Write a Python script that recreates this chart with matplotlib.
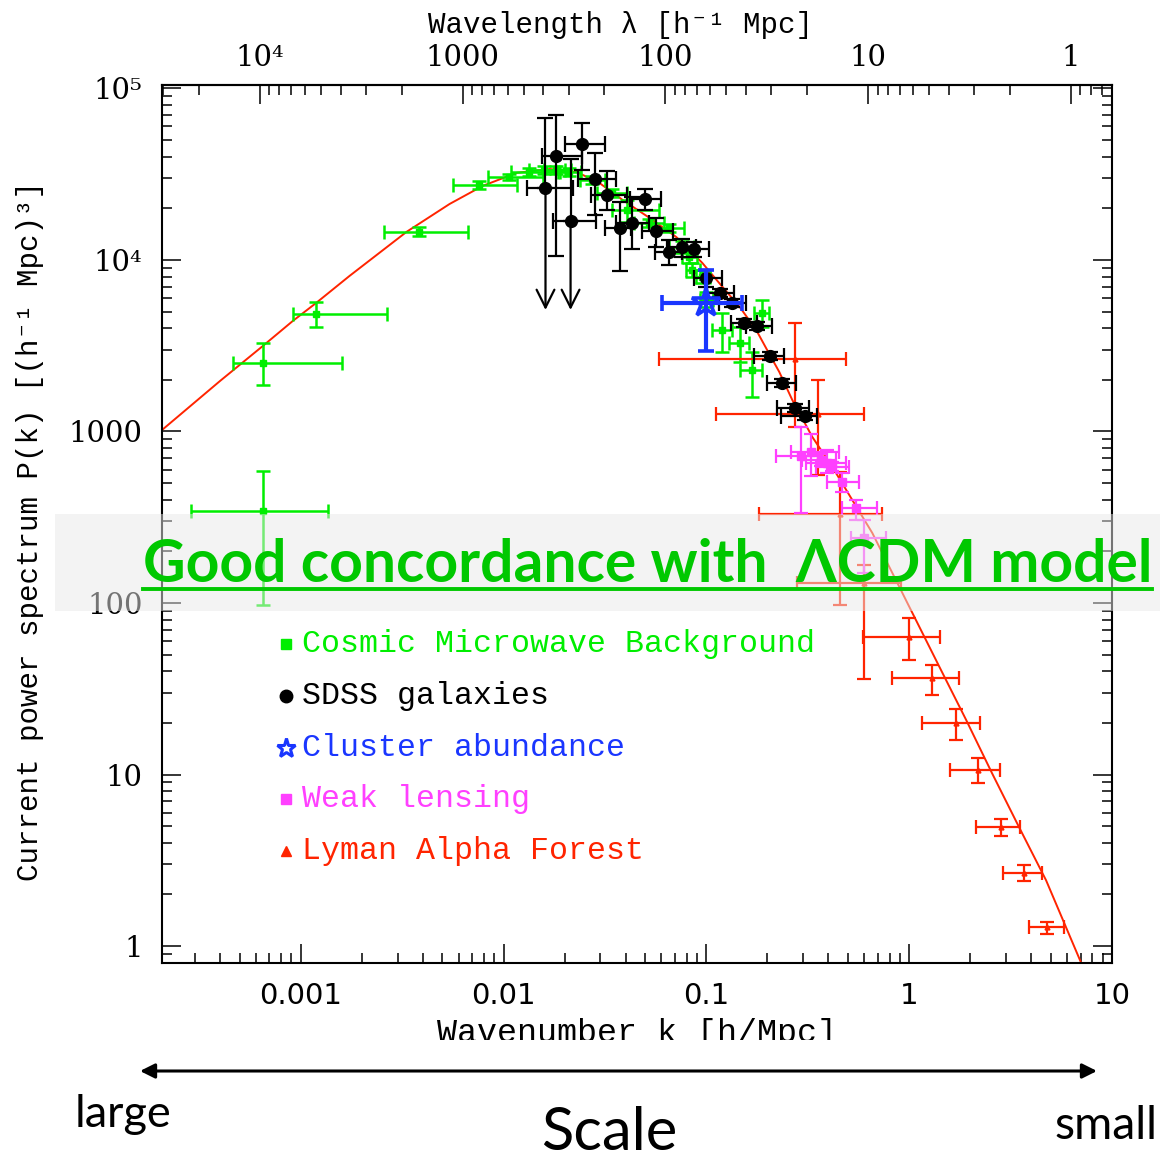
import numpy as np
import matplotlib.pyplot as plt
from matplotlib.patches import Rectangle
from matplotlib.lines import Line2D
from matplotlib.ticker import FixedLocator, NullFormatter

# LCDM model curve
model_k = [2.07e-4, 4.0e-4, 6.5e-4, 9.14e-4, 1.19e-3, 1.74e-3, 3.33e-3, 5.42e-3, 7.88e-3,
           1.16e-2, 1.69e-2, 2.29e-2, 2.97e-2, 3.86e-2, 5.24e-2, 7.11e-2, 9.55e-2, 0.120,
           0.146, 0.176, 0.198, 0.229, 0.265, 0.333, 0.418, 0.524, 0.658, 1.02, 1.41,
           1.91, 2.56, 3.48, 4.73, 7.04]
model_P = [1020, 1970, 3150, 4410, 5610, 8070, 14600, 21200, 27000,
           32200, 33900, 32600, 28100, 22400, 17600, 13600, 9610, 6970,
           5320, 3910, 3030, 2220, 1530, 929, 621, 399, 256, 91, 42.4,
           20.8, 10.2, 4.94, 2.42, 0.80]

# Cosmic Microwave Background
cmb_k = [6.5e-4, 6.5e-4, 1.19e-3, 3.81e-3, 7.53e-3, 1.06e-2, 1.34e-2, 1.59e-2, 1.82e-2, 2.11e-2,
         2.74e-2, 3.44e-2, 4.04e-2, 5.24e-2, 6.58e-2, 7.62e-2, 8.24e-2, 8.53e-2, 9.55e-2, 0.100,
         0.120, 0.146, 0.167, 0.189]
cmb_klo = [2.87e-4, 4.62e-4, 9.14e-4, 2.56e-3, 5.61e-3, 8.34e-3, 1.09e-2, 1.34e-2, 1.59e-2, 1.85e-2,
           2.37e-2, 2.90e-2, 3.44e-2, 4.42e-2, 5.54e-2, 6.58e-2, 7.6e-2, 7.9e-2, 8.9e-2, 0.093,
           0.107, 0.130, 0.146, 0.172]
cmb_khi = [1.36e-3, 1.59e-3, 2.65e-3, 6.65e-3, 1.17e-2, 1.56e-2, 1.89e-2, 2.00e-2, 2.16e-2, 2.42e-2,
           3.15e-2, 4.08e-2, 5.86e-2, 6.21e-2, 7.80e-2, 8.73e-2, 9.0e-2, 9.3e-2, 0.104, 0.108,
           0.134, 0.163, 0.187, 0.204]
cmb_P = [344, 2510, 4840, 14600, 27400, 30500, 32600, 33500, 33500, 32600,
         29300, 24600, 19600, 16400, 15400, 11900, 10400, 8750, 7960, 5850,
         3910, 3280, 2280, 4910]
cmb_Plo = [97, 1870, 4070, 13800, 25900, 29300, 30900, 31700, 31700, 30900,
           27800, 23300, 16700, 15600, 14600, 11000, 9600, 8000, 7300, 5300,
           2910, 2540, 1590, 4070]
cmb_Phi = [589, 3280, 5690, 15600, 28900, 31700, 34400, 35300, 35300, 34400,
           30900, 26000, 22400, 17300, 16300, 12900, 11300, 9600, 8700, 6500,
           4910, 4070, 2910, 5850]

# SDSS galaxies
sdss_k = [1.61e-2, 1.82e-2, 2.14e-2, 2.45e-2, 2.81e-2, 3.22e-2, 3.73e-2, 4.32e-2, 5.01e-2, 5.67e-2,
          6.58e-2, 7.62e-2, 8.73e-2, 0.100, 0.117, 0.134, 0.154, 0.178, 0.207, 0.237, 0.274, 0.307]
sdss_klo = [1.31e-2, 1.54e-2, 1.76e-2, 2.00e-2, 2.32e-2, 2.71e-2, 3.15e-2, 3.60e-2, 4.18e-2, 4.84e-2,
            5.61e-2, 6.43e-2, 7.62e-2, 8.73e-2, 0.101, 0.116, 0.133, 0.157, 0.172, 0.198, 0.224, 0.234]
sdss_khi = [2.21e-2, 2.45e-2, 2.87e-2, 3.18e-2, 3.60e-2, 4.08e-2, 4.27e-2, 5.24e-2, 6.00e-2, 6.88e-2,
            7.62e-2, 8.93e-2, 0.103, 0.120, 0.137, 0.157, 0.178, 0.211, 0.242, 0.278, 0.322, 0.352]
sdss_P = [26300, 40400, 16900, 47500, 29700, 23900, 15400, 16400, 22700, 14800,
          11100, 11900, 11600, 7850, 6420, 5610, 4290, 4120, 2760, 1920, 1370, 1230]
sdss_Plo = [26300, 10500, 16900, 33500, 18300, 19600, 8630, 11600, 19600, 11900,
            9350, 10400, 10400, 6960, 6100, 5330, 4080, 3910, 2620, 1820, 1300, 1170]
sdss_Phi = [67300, 70000, 38800, 62900, 42100, 33000, 21800, 23300, 25900, 17600,
            13100, 13300, 12700, 8750, 6740, 5890, 4500, 4330, 2900, 2020, 1440, 1290]
# upper limits: arrows drawn down to these values
sdss_lim_k = [1.61e-2, 2.14e-2]
sdss_lim_P = [26300, 16900]
sdss_lim_end = [5110, 5110]

# Cluster abundance
clu_k = [0.100]
clu_klo = [6.07e-2]
clu_khi = [0.150]
clu_P = [5610]
clu_Plo = [2950]
clu_Phi = [8750]

# Weak lensing
wl_k = [0.294, 0.329, 0.369, 0.394, 0.418, 0.468, 0.548, 0.600]
wl_klo = [0.221, 0.262, 0.297, 0.311, 0.348, 0.394, 0.468, 0.518]
wl_khi = [0.373, 0.452, 0.437, 0.489, 0.506, 0.567, 0.695, 0.771]
wl_P = [720, 759, 682, 655, 621, 508, 358, 239]
wl_Plo = [335, 550, 628, 573, 585, 444, 305, 150]
wl_Phi = [1060, 967, 740, 780, 660, 573, 399, 305]

# Lyman Alpha Forest
lya_k = [0.274, 0.356, 0.457, 0.600, 1.00, 1.30, 1.70, 2.19, 2.84, 3.69, 4.78]
lya_klo = [5.86e-2, 0.111, 0.182, 0.281, 0.593, 0.824, 1.16, 1.59, 2.14, 2.90, 3.90]
lya_khi = [0.489, 0.600, 0.736, 0.913, 1.42, 1.76, 2.24, 2.81, 3.52, 4.52, 5.80]
lya_P = [2650, 1265, 330, 131, 63.4, 36.5, 20.0, 10.6, 4.94, 2.66, 1.29]
lya_Plo = [1060, 558, 97.3, 36.0, 46.5, 29.1, 15.9, 8.92, 4.38, 2.39, 1.17]
lya_Phi = [4290, 1995, 581, 167, 81.8, 43.5, 24.1, 12.5, 5.50, 2.97, 1.38]

y_ticks = [1, 10, 100, 1000, 1e4, 1e5]
y_labels = ['1', '10', '100', '1000', '10\u2074', '10\u2075']
x_ticks = [0.001, 0.01, 0.1, 1, 10]
x_labels = ['0.001', '0.01', '0.1', '1', '10']
lam_ticks = [1, 10, 100, 1000, 1e4]
lam_labels = ['1', '10', '100', '1000', '10\u2074']

legend_names = ['Cosmic Microwave Background', 'SDSS galaxies', 'Cluster abundance',
                'Weak lensing', 'Lyman Alpha Forest']

GREEN = '#00ee00'
BLUE = '#1a36ff'
PINK = '#ff40ff'
RED = '#ff2400'
MONO = ['Liberation Mono', 'DejaVu Sans Mono']
SERIF = ['DejaVu Serif']
SANS = ['Lato', 'DejaVu Sans']

W, H = 1160, 1158
fig = plt.figure(figsize=(W / 100, H / 100), dpi=100)
ax = fig.add_axes([162 / W, 1 - 963 / H, 950 / W, 878 / H])
ax.set_xscale('log')
ax.set_yscale('log')
ax.set_xlim(2.07e-4, 10)
ax.set_ylim(0.797, 1.047e5)


def errs(k, P, klo, khi, Plo, Phi):
    k, P = np.array(k), np.array(P)
    xe = [k - np.array(klo), np.array(khi) - k]
    ye = [P - np.array(Plo), np.array(Phi) - P]
    return k, P, xe, ye


ax.plot(model_k, model_P, color=RED, lw=1.4, zorder=2)

k, P, xe, ye = errs(cmb_k, cmb_P, cmb_klo, cmb_khi, cmb_Plo, cmb_Phi)
ax.errorbar(k, P, xerr=xe, yerr=ye, fmt='s', ms=5, color=GREEN, ecolor=GREEN,
            elinewidth=1.8, capsize=5, capthick=1.8, zorder=3)

k, P, xe, ye = errs(lya_k, lya_P, lya_klo, lya_khi, lya_Plo, lya_Phi)
ax.errorbar(k, P, xerr=xe, yerr=ye, fmt='^', ms=3.5, color=RED, ecolor=RED,
            elinewidth=1.6, capsize=5, capthick=1.6, zorder=3)

k, P, xe, ye = errs(wl_k, wl_P, wl_klo, wl_khi, wl_Plo, wl_Phi)
ax.errorbar(k, P, xerr=xe, yerr=ye, fmt='s', ms=5.5, color=PINK, ecolor=PINK,
            elinewidth=1.6, capsize=5, capthick=1.6, zorder=4)

k, P, xe, ye = errs(sdss_k, sdss_P, sdss_klo, sdss_khi, sdss_Plo, sdss_Phi)
ax.errorbar(k, P, xerr=xe, yerr=ye, fmt='o', ms=8.5, color='black', ecolor='black',
            elinewidth=1.6, capsize=5.5, capthick=1.6, zorder=5)
for kk, p0, p1 in zip(sdss_lim_k, sdss_lim_P, sdss_lim_end):
    ax.annotate('', xy=(kk, p1), xytext=(kk, p0),
                arrowprops=dict(arrowstyle='->', lw=1.6, color='black',
                                mutation_scale=32, shrinkA=0, shrinkB=0), zorder=5)

k, P, xe, ye = errs(clu_k, clu_P, clu_klo, clu_khi, clu_Plo, clu_Phi)
ax.errorbar(k, P, xerr=xe, yerr=ye, fmt='*', ms=21, mfc='none', mec=BLUE, mew=2.6,
            color=BLUE, ecolor=BLUE, elinewidth=3, capsize=6, capthick=3, zorder=6)

# ticks
ax.tick_params(which='both', direction='in', top=False, right=True, width=1.1)
ax.tick_params(which='major', length=14)
ax.tick_params(which='minor', length=7)
ax.yaxis.set_major_locator(FixedLocator(y_ticks))
ax.set_yticklabels(y_labels, fontfamily=SERIF, fontsize=21)
ax.yaxis.set_minor_formatter(NullFormatter())
ax.tick_params(axis='y', which='major', pad=14)
ax.xaxis.set_major_locator(FixedLocator(x_ticks))
ax.set_xticklabels(x_labels, fontfamily=['DejaVu Sans'], fontsize=21)
ax.xaxis.set_minor_formatter(NullFormatter())
ax.tick_params(axis='x', which='major', pad=14)
for s in ax.spines.values():
    s.set_linewidth(1.5)

secax = ax.secondary_xaxis('top', functions=(lambda x: 2 * np.pi / x, lambda x: 2 * np.pi / x))
lam_minor = [m * 10.0 ** d for d in range(-1, 5) for m in range(2, 10)]
lam_minor = [v for v in lam_minor if 0.63 < v < 30300]
secax.xaxis.set_major_locator(FixedLocator(lam_ticks))
secax.xaxis.set_minor_locator(FixedLocator(lam_minor))
secax.set_xticklabels(lam_labels, fontfamily=SERIF, fontsize=21)
secax.xaxis.set_minor_formatter(NullFormatter())
secax.tick_params(which='both', direction='in', width=1.1)
secax.tick_params(which='major', length=14, pad=9)
secax.tick_params(which='minor', length=7)
secax.spines['top'].set_linewidth(1.5)

# axis titles
fig.text(620 / W, 1 - 25 / H, 'Wavelength \u03bb [h\u207b\u00b9 Mpc]', family=MONO,
         fontsize=21, ha='center', va='center')
fig.text(30 / W, 1 - 531 / H, 'Current power spectrum P(k) [(h\u207b\u00b9 Mpc)\u00b3]',
         family=MONO, fontsize=21, ha='center', va='center', rotation=90)
fig.text(637 / W, 1 - 1018 / H, 'Wavenumber k [h/Mpc]', family=MONO,
         fontsize=24, ha='center', va='top')
fig.add_artist(Rectangle((0, 1 - 1060 / H), 1, 20 / H, transform=fig.transFigure,
                         facecolor='white', edgecolor='none', zorder=10))

# legend drawn as marker + coloured text
leg_y = [644, 696, 748, 799, 851]
leg_colors = [GREEN, 'black', BLUE, PINK, RED]
leg_markers = ['s', 'o', '*', 's', '^']
for name, yy, c, m in zip(legend_names, leg_y, leg_colors, leg_markers):
    ya = (963 - yy) / 878
    if m == '*':
        ax.plot([(286 - 162) / 950], [ya], marker=m, ms=14, mfc='none', mec=c, mew=2.2,
                transform=ax.transAxes, clip_on=False)
    else:
        ax.plot([(286 - 162) / 950], [ya], marker=m, ms=9 if m == 'o' else 7.5, color=c,
                transform=ax.transAxes, clip_on=False)
    ax.text((302 - 162) / 950, ya, name, color=c, family=MONO, fontsize=22.8,
            ha='left', va='center', transform=ax.transAxes)

# highlight band with message
fig.add_artist(Rectangle((55 / W, 1 - 611 / H), 1, 97 / H, transform=fig.transFigure,
                         facecolor='#e8e8e8', edgecolor='none', alpha=0.5, zorder=20))
msg = fig.text(143 / W, 1 - 582 / H, 'Good concordance with  \u039bCDM model',
               family=SANS, weight='bold', fontsize=40,
               color='#00c800', ha='left', va='baseline', zorder=21)
fig.canvas.draw()
bb = msg.get_window_extent()
msg.set_fontsize(40 * 1009 / bb.width)
fig.add_artist(Line2D([143 / W, 1152 / W], [1 - 589 / H, 1 - 589 / H], transform=fig.transFigure,
                      color='#00c800', lw=2.8, zorder=21))

# scale arrow at the bottom
ax.annotate('', xy=(1097 / W, 1 - 1071 / H), xytext=(140 / W, 1 - 1071 / H),
            xycoords='figure fraction', textcoords='figure fraction',
            arrowprops=dict(arrowstyle='<|-|>', lw=2.2, color='black',
                            mutation_scale=22, shrinkA=0, shrinkB=0), annotation_clip=False)
fig.text(75 / W, 1 - 1127 / H, 'large', family=SANS, fontsize=32.5,
         ha='left', va='baseline')
fig.text(1158 / W, 1 - 1139 / H, 'small', family=SANS, fontsize=33.5,
         ha='right', va='baseline')
fig.text(609 / W, 1 - 1150 / H, 'Scale', family=SANS, fontsize=43,
         ha='center', va='baseline')

fig.savefig('out.png', dpi=100)
